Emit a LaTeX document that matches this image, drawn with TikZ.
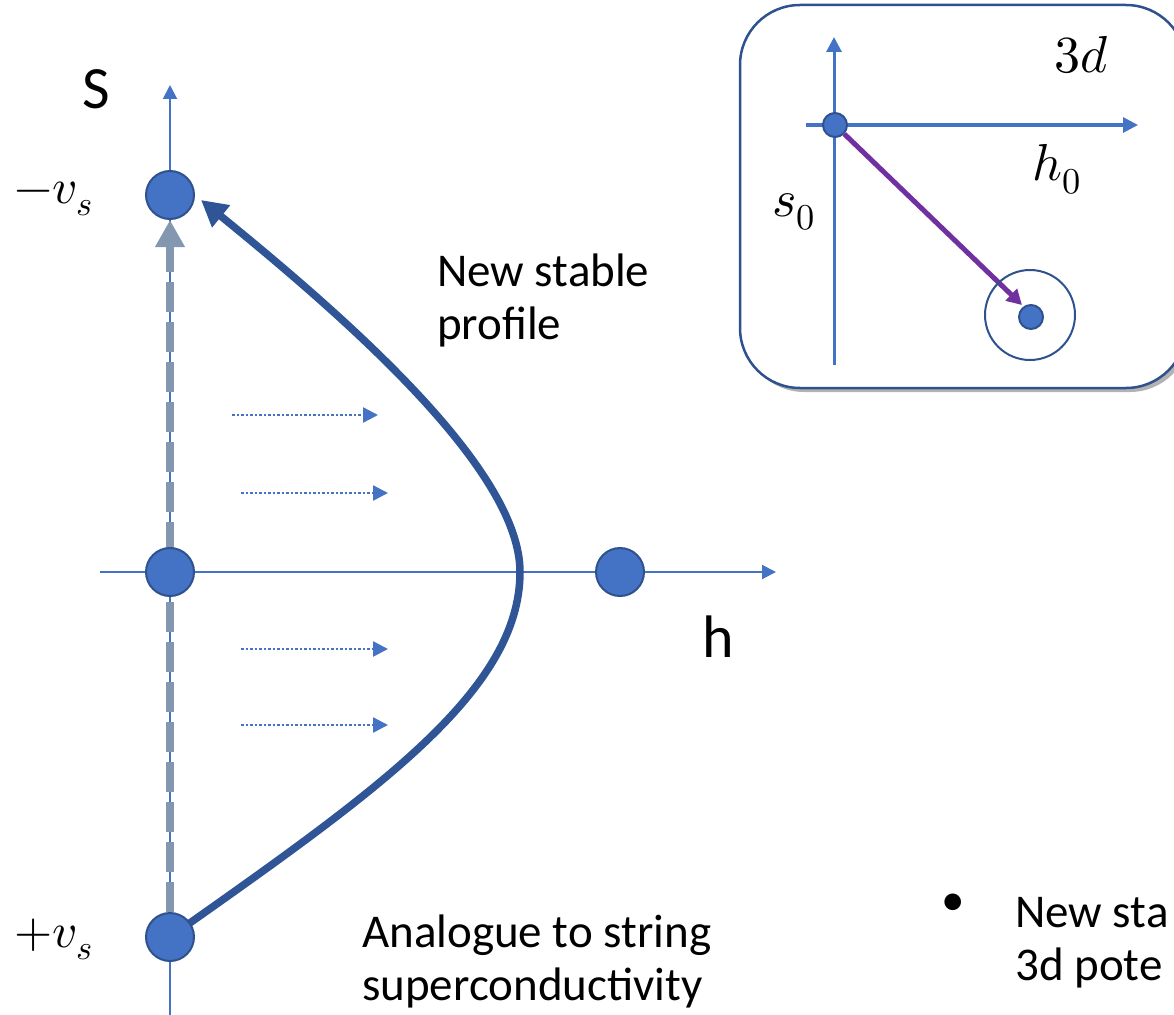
\documentclass[tikz,border=0pt]{standalone}
\usepackage{fontspec}
\usepackage{unicode-math}
\setmainfont{Carlito}
\setmathfont{Latin Modern Math}
\usetikzlibrary{arrows.meta,shadows}
\definecolor{axisblue}{HTML}{4472C4}
\definecolor{darkedge}{HTML}{2F528F}
\definecolor{curveblue}{HTML}{2F5597}
\definecolor{dashgray}{HTML}{8497B0}
\definecolor{purp}{HTML}{7030A0}
\pgfdeclarelayer{bg}
\pgfsetlayers{bg,main}
\begin{document}
\begin{tikzpicture}[x=1pt,y=-1pt,
  bigdot/.style={circle,fill=axisblue,draw=darkedge,line width=2pt,minimum size=48pt,inner sep=0pt},
  smalldot/.style={circle,fill=axisblue,draw=darkedge,line width=2pt,minimum size=24pt,inner sep=0pt},
  ring/.style={circle,draw=darkedge,line width=2pt,minimum size=90pt,inner sep=0pt},
  axisline/.style={draw=axisblue,line width=2pt,-{Triangle[length=14pt,width=14pt]}},
  inaxis/.style={draw=axisblue,line width=3pt,-{Triangle[length=15pt,width=15pt]}},
  pusharrow/.style={draw=axisblue,line width=2.5pt,dash pattern=on 2.5pt off 2pt,-{Triangle[length=15pt,width=15pt]}},
  grayarrow/.style={draw=dashgray,line width=8pt,dash pattern=on 30pt off 10pt,-{Triangle[length=27pt,width=28pt]}},
  profilecurve/.style={draw=curveblue,line width=7.5pt,-{Triangle[length=26pt,width=27pt]}},
  purparrow/.style={draw=purp,line width=5pt,-{Triangle[length=15pt,width=16pt]}},
  bodytext/.style={font=\fontsize{47}{53}\selectfont,align=left,inner sep=0pt},
  bigletter/.style={font=\fontsize{60}{66}\selectfont,inner sep=0pt},
  mathlbl/.style={font=\fontsize{49}{53}\selectfont,inner sep=0pt},
  inmath/.style={font=\fontsize{52}{56}\selectfont,inner sep=0pt},
  insetbox/.style={draw=darkedge,line width=2.5pt,fill=white,rounded corners=60pt,
     drop shadow={shadow xshift=4pt,shadow yshift=-4pt,opacity=0.3,fill=black}}
]
\useasboundingbox (0,0) rectangle (1174,1014);

% ---------- main diagram nodes ----------
\node[bigdot] (top) at (170,195) {};
\node[bigdot] (mid) at (170,572) {};
\node[bigdot] (right) at (620,572) {};
\node[bigdot] (bot) at (170,937) {};

\coordinate (sbottom) at (170,1020);
\coordinate (stop) at (170,85);
\coordinate (hleft) at (100,572);
\coordinate (hright) at (776,572);
\coordinate (curvetip) at (201,200);

% ---------- inset nodes ----------
\node[smalldot] (origin) at (835,125) {};
\node[ring] (target) at (1030,315) {};
\node[smalldot] (tdot) at (1031,317) {};
\coordinate (vbot) at (834,365);
\coordinate (vtop) at (834,37);
\coordinate (hl) at (806,125);
\coordinate (hr) at (1138,125);
\coordinate (ptip) at (1022,305);

\begin{pgfonlayer}{bg}
\draw[axisline] (sbottom) -- (stop);
\draw[axisline] (hleft) -- (hright);
\draw[grayarrow] (bot.north) -- (top.south);
\draw[profilecurve] (bot.center) .. controls (374,793) and (520,692) .. (520,572)
   .. controls (520,472) and (356,326) .. (curvetip);
\path[insetbox] (740,5) rectangle (1186,388);
\draw[inaxis] (vbot) -- (vtop);
\draw[inaxis] (hl) -- (hr);
\draw[purparrow] (origin) -- (ptip);
\end{pgfonlayer}

% dotted push arrows
\coordinate (p1a) at (232,415); \coordinate (p1b) at (378,415);
\coordinate (p2a) at (241,493); \coordinate (p2b) at (388,493);
\coordinate (p3a) at (241,649); \coordinate (p3b) at (388,649);
\coordinate (p4a) at (241,725); \coordinate (p4b) at (388,725);
\draw[pusharrow] (p1a) -- (p1b);
\draw[pusharrow] (p2a) -- (p2b);
\draw[pusharrow] (p3a) -- (p3b);
\draw[pusharrow] (p4a) -- (p4b);

% labels
\node[bigletter] (lblS) at (96,89) {S};
\node[bigletter] (lblh) at (718,637) {h};
\node[mathlbl,anchor=base west] (lblminus) at (14,203) {$-v_s$};
\node[mathlbl,anchor=base west] (lblplus) at (14,947) {$+v_s$};
\node[bodytext,anchor=base west] (newstable) at (437,339) {New stable\\profile};
\node[bodytext,anchor=base west] (analogue) at (362,1000) {Analogue to string\\superconductivity};
\node[bodytext] (bullet) at (953,905) {•};
\node[bodytext,anchor=base west] (bullettext) at (1015,980) {New sta\\3d pote};

\node[inmath] (lbl3d) at (1082,55) {$3d$};
\node[inmath] (lblh0) at (1057,169) {$h_0$};
\node[inmath] (lbls0) at (794,212) {$s_0$};
\end{tikzpicture}
\end{document}
